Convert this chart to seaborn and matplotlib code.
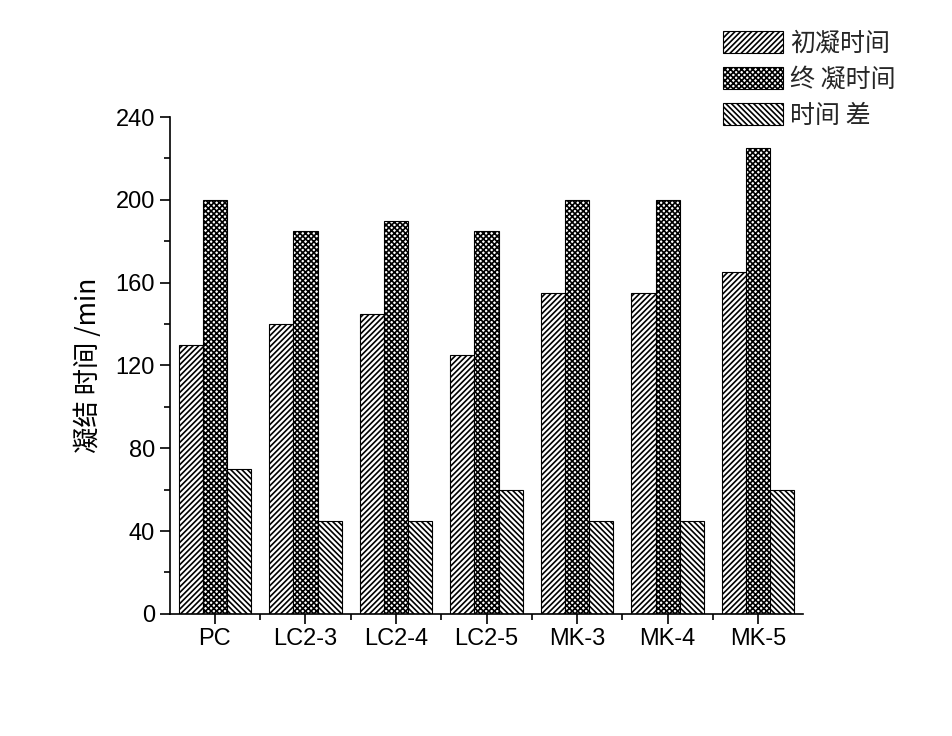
import pandas as pd
import numpy as np
import seaborn as sns
import matplotlib.pyplot as plt
from matplotlib.patches import Patch
from matplotlib.ticker import MultipleLocator

sns.set_style("ticks")
plt.rcParams['font.family'] = ['Liberation Sans', 'Noto Sans CJK SC', 'DejaVu Sans']
plt.rcParams['hatch.linewidth'] = 1.2
plt.rcParams['hatch.color'] = 'black'

# données
samples = ['PC', 'LC2-3', 'LC2-4', 'LC2-5', 'MK-3', 'MK-4', 'MK-5']
series = ['初凝时间', '终 凝时间', '时间 差']
initial = [130, 140, 145, 125, 155, 155, 165]
final = [200, 185, 190, 185, 200, 200, 225]
diff = [70, 45, 45, 60, 45, 45, 60]

df = pd.DataFrame({
    'sample': np.tile(samples, 3),
    'serie': np.repeat(series, len(samples)),
    'value': initial + final + diff,
})

hatches = ['//////', 'xxxxxx', '\\\\\\\\\\\\']
cjk = ['Noto Sans CJK SC', 'DejaVu Sans']

fig = plt.figure(figsize=(9.53, 7.36), dpi=100)
ax = fig.add_axes([0.178, 0.166, 0.665, 0.675])

sns.barplot(data=df, x='sample', y='value', hue='serie', order=samples,
            hue_order=series, palette=['white'] * 3, edgecolor='black',
            linewidth=0.8, width=0.8, legend=False, ax=ax)

n = len(samples)
for i, p in enumerate(ax.patches[:3 * n]):
    p.set_hatch(hatches[i // n])
    p.set_facecolor('white')

ax.set_ylim(0, 240)
ax.set_xlim(-0.5, n - 0.5)
ax.yaxis.set_major_locator(MultipleLocator(40))
ax.yaxis.set_minor_locator(MultipleLocator(20))
ax.set_xticks(np.arange(n - 1) + 0.5, minor=True)
ax.tick_params(which='major', length=7, width=1.2, labelsize=17,
               direction='out', colors='black')
ax.tick_params(which='minor', length=4, width=1.2, direction='out', colors='black')
for s in ['top', 'right']:
    ax.spines[s].set_visible(False)
for s in ['left', 'bottom']:
    ax.spines[s].set_linewidth(1.2)
    ax.spines[s].set_color('black')

ax.set_xlabel('')
ax.set_ylabel('凝结 时间 /min', fontsize=19, labelpad=10, family=cjk, color='black')

handles = [Patch(facecolor='white', edgecolor='black', linewidth=0.8, hatch=h, label=s)
           for h, s in zip(hatches, series)]
fig.legend(handles=handles, loc='upper left', bbox_to_anchor=(0.74, 0.982),
           frameon=False, handlelength=2.4, handleheight=0.95, labelspacing=0.4,
           handletextpad=0.3, borderpad=0.2, prop={'family': cjk, 'size': 18})

fig.savefig('out.png', dpi=100)
